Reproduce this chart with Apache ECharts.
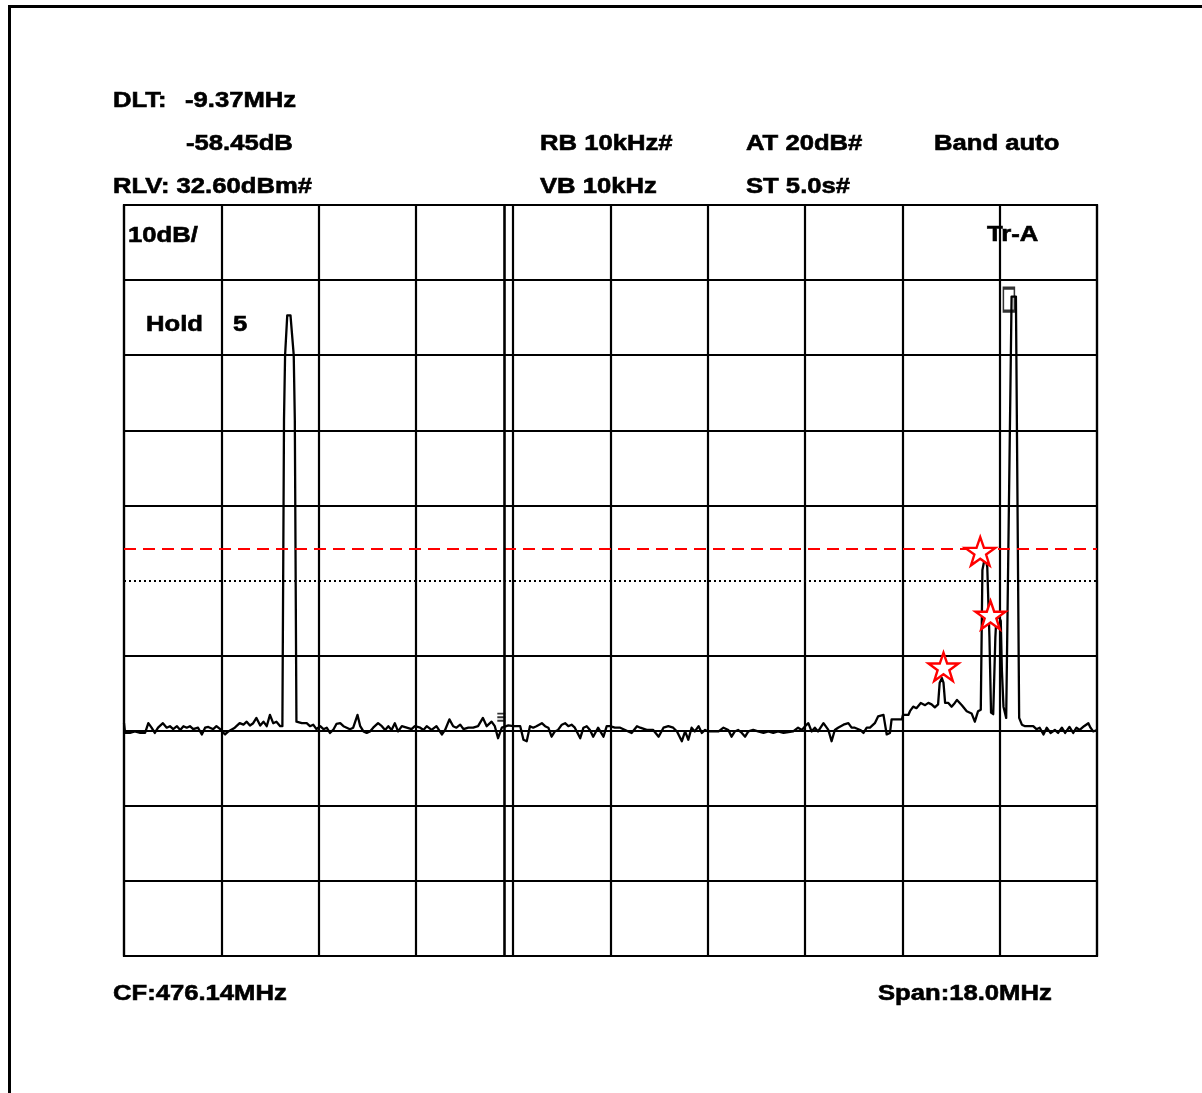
<!DOCTYPE html>
<html><head><meta charset="utf-8">
<script src="https://cdn.jsdelivr.net/npm/echarts@6/dist/echarts.min.js"></script>
<style>html,body{margin:0;padding:0;background:#fff}#c{width:1202px;height:1093px}</style>
</head><body><div id="c"></div>
<script>
// ---- instrument settings ----
const centerFreq = 476.14;   // MHz
const spanMHz = 18.0;        // MHz
const refLevel = 32.6;       // dBm
const dbPerDiv = 10;
const divisions = 10;

// ---- trace (frequency MHz / level dBm) ----
const traceFreq = [
467.14,467.16,467.25,467.34,467.44,467.53,467.59,467.65,467.71,467.77,
467.86,467.93,467.99,468.05,468.12,468.18,468.24,468.30,468.36,468.42,
468.51,468.58,468.64,468.70,468.79,468.85,468.92,468.95,469.01,469.07,
469.19,469.28,469.35,469.41,469.47,469.53,469.59,469.66,469.72,469.78,
469.84,469.90,469.96,470.03,470.07,470.10,470.12,470.16,470.22,470.28,
470.30,470.33,470.36,470.43,470.52,470.58,470.64,470.70,470.77,470.83,
470.89,470.95,471.01,471.07,471.14,471.20,471.26,471.32,471.38,471.46,
471.51,471.57,471.63,471.69,471.75,471.84,471.91,471.97,472.03,472.09,
472.15,472.21,472.28,472.37,472.46,472.52,472.62,472.68,472.74,472.83,
472.92,473.02,473.08,473.16,473.23,473.29,473.36,473.42,473.51,473.60,
473.69,473.78,473.85,473.94,474.00,474.06,474.13,474.16,474.25,474.34,
474.47,474.53,474.59,474.65,474.71,474.77,474.87,474.93,474.99,475.05,
475.11,475.17,475.24,475.30,475.36,475.42,475.48,475.58,475.64,475.70,
475.76,475.82,475.91,476.01,476.07,476.13,476.22,476.32,476.41,476.53,
476.63,476.69,476.81,476.93,477.03,477.12,477.21,477.30,477.37,477.46,
477.52,477.58,477.64,477.70,477.77,477.83,477.89,477.95,478.04,478.14,
478.23,478.32,478.38,478.44,478.50,478.57,478.63,478.69,478.78,478.87,
478.97,479.06,479.15,479.24,479.34,479.43,479.52,479.61,479.68,479.74,
479.80,479.86,479.92,479.98,480.08,480.17,480.23,480.29,480.35,480.45,
480.54,480.60,480.66,480.76,480.82,480.88,480.94,481.03,481.09,481.19,
481.25,481.31,481.34,481.46,481.53,481.55,481.65,481.68,481.74,481.80,
481.88,481.96,482.02,482.08,482.14,482.20,482.23,482.27,482.30,482.33,
482.39,482.45,482.51,482.55,482.64,482.73,482.82,482.88,482.94,482.99,
483.02,483.05,483.09,483.11,483.15,483.18,483.22,483.26,483.28,483.33,
483.36,483.38,483.41,483.46,483.49,483.56,483.64,483.70,483.75,483.81,
483.96,484.02,484.08,484.15,484.21,484.28,484.36,484.42,484.49,484.55,
484.63,484.70,484.76,484.82,484.90,484.98,485.02,485.07,485.14
];
const traceLevel = [
-36.4,-37.7,-37.7,-37.5,-37.7,-37.7,-36.4,-37.0,-37.7,-37.0,
-36.4,-37.0,-36.8,-37.2,-36.8,-37.3,-36.8,-37.0,-36.8,-37.2,
-37.0,-37.9,-37.0,-36.9,-37.2,-36.8,-37.2,-37.5,-37.9,-37.5,
-37.0,-36.4,-36.6,-36.2,-36.7,-36.4,-35.7,-36.7,-36.2,-36.8,
-35.3,-36.4,-36.2,-36.8,-36.8,4.0,12.6,17.9,17.9,12.6,
4.0,-36.2,-36.2,-36.4,-36.4,-36.8,-36.6,-37.2,-36.8,-37.2,
-37.0,-37.7,-37.3,-36.5,-36.4,-36.8,-37.0,-37.2,-37.0,-35.3,
-36.8,-37.5,-37.7,-37.5,-37.0,-36.4,-36.8,-37.3,-36.8,-37.3,
-36.4,-37.5,-36.8,-37.0,-37.2,-36.8,-37.0,-37.3,-36.8,-37.3,
-36.8,-37.9,-37.3,-35.9,-36.8,-37.0,-36.6,-37.2,-37.0,-37.0,
-36.8,-35.7,-36.8,-36.2,-36.8,-38.4,-37.0,-37.0,-36.7,-36.8,
-36.8,-38.6,-38.8,-36.8,-37.0,-36.8,-36.4,-36.8,-37.0,-38.2,
-37.5,-37.3,-36.6,-36.4,-36.8,-36.6,-37.0,-38.4,-37.0,-36.8,
-37.3,-38.2,-37.0,-38.2,-36.8,-36.8,-37.0,-37.0,-37.3,-37.7,
-36.8,-37.0,-37.3,-37.3,-38.2,-37.0,-36.8,-37.0,-37.5,-38.8,
-37.5,-38.6,-37.0,-37.5,-36.8,-37.7,-37.3,-37.5,-37.5,-37.5,
-37.0,-37.3,-38.2,-37.5,-37.3,-37.7,-38.2,-37.5,-37.3,-37.5,
-37.7,-37.5,-37.7,-37.5,-37.7,-37.6,-37.5,-37.0,-37.3,-36.8,
-36.4,-37.5,-37.0,-37.5,-36.4,-37.3,-38.8,-37.3,-37.0,-36.6,
-36.4,-37.0,-37.0,-37.3,-37.7,-37.0,-37.0,-36.4,-35.5,-35.3,
-37.9,-37.7,-35.9,-35.9,-35.9,-35.3,-35.3,-34.8,-34.2,-34.4,
-33.7,-34.0,-33.7,-33.9,-34.3,-33.9,-31.0,-30.4,-31.0,-33.7,
-33.7,-34.2,-33.7,-33.3,-34.0,-34.8,-35.1,-36.2,-34.8,-34.6,
-16.0,-14.9,-14.7,-15.6,-24.9,-35.0,-35.2,-24.9,-22.2,-22.3,
-22.8,-29.3,-34.2,-35.7,-35.5,20.4,20.4,-35.7,-36.6,-36.8,
-36.8,-37.2,-37.0,-37.9,-37.0,-37.7,-37.3,-37.7,-37.0,-37.7,
-36.9,-37.7,-37.0,-37.3,-36.8,-36.4,-37.0,-37.5,-37.3
];

// ---- markers ----
const starFreq = [482.98, 483.17, 482.30];
const starLevel = [-13.5, -22.0, -28.9];
const refMarkerFreq = [483.51];
const refMarkerLevel = [20.0];
const deltaMarkerFreq = [474.12];
const deltaMarkerLevel = [-35.6];
const deltaLineFreq = 474.17;
const displayLineLevel = -13.2;   // red dashed
const centerLineLevel = -17.4;    // dotted graticule centre
const gridLevels = [22.6, 12.6, 2.6, -7.4, -27.4, -37.4, -47.4, -57.4];

// ---- texts ----
const headerTexts = ['DLT:', '-9.37MHz', '-58.45dB', 'RB 10kHz#', 'AT 20dB#', 'Band auto', 'RLV: 32.60dBm#', 'VB 10kHz', 'ST 5.0s#'];
const screenTexts = ['10dB/', 'Tr-A', 'Hold', '5'];
const footerTexts = ['CF:476.14MHz', 'Span:18.0MHz'];

const fMin = centerFreq - spanMHz / 2;
const fMax = centerFreq + spanMHz / 2;
const yMax = refLevel;
const yMin = refLevel - dbPerDiv * divisions;

const FONT = 'bold 22px "Liberation Sans", Arial, sans-serif';
function txt(s, x, y) {
  return {
    type: 'text', x: x, y: y, scaleX: 1.165, z: 10, silent: true,
    style: { text: s, font: FONT, fill: '#000', stroke: '#000', lineWidth: 0.6,
      textAlign: 'left', textVerticalAlign: 'middle', align: 'left', verticalAlign: 'middle' }
  };
}
const textPos = [
  [113, 101], [185, 101], [186, 144], [540, 144], [746, 144], [934, 144],
  [113, 187], [540, 187], [746, 187]
];
const screenPos = [[128, 236], [987, 235], [146, 325], [233, 325]];
const footerPos = [[113, 994], [878, 994]];

const graphics = [];
headerTexts.forEach((s, i) => graphics.push(txt(s, textPos[i][0], textPos[i][1])));
screenTexts.forEach((s, i) => graphics.push(txt(s, screenPos[i][0], screenPos[i][1])));
footerTexts.forEach((s, i) => graphics.push(txt(s, footerPos[i][0], footerPos[i][1])));
graphics.push({
  type: 'polyline', silent: true, z: 10,
  shape: { points: [[9.5, 1093], [9.5, 6.5], [1202, 6.5]] },
  style: { stroke: '#000', lineWidth: 3, fill: null }
});

const solid = { type: 'solid', color: '#000', width: 2.2 };
const markLines = gridLevels.map(v => ({ yAxis: v, lineStyle: solid }));
markLines.push({ yAxis: centerLineLevel, lineStyle: { type: [2, 3], color: '#000', width: 2 } });
markLines.push({ yAxis: displayLineLevel, lineStyle: { type: [12, 7], color: '#ff0000', width: 2 } });
markLines.push({ xAxis: deltaLineFreq, lineStyle: { type: 'solid', color: '#000', width: 2.6 } });

const STAR = 'path://M50,2 L61.8,36.2 L97.6,36.2 L68.6,57.3 L79.4,91.5 L50,70.4 L20.6,91.5 L31.4,57.3 L2.4,36.2 L38.2,36.2 Z';
const BARS = 'path://M0,0H6V1.5H0Z M0,2.75H6V4.25H0Z M0,5.5H6V7H0Z';

const chart = echarts.init(document.getElementById('c'), null, { renderer: 'canvas' });
chart.setOption({
  backgroundColor: '#fff',
  animation: false,
  grid: { left: 124, top: 205, width: 973, height: 751, show: true,
          borderColor: '#000', borderWidth: 2.2, backgroundColor: 'transparent' },
  xAxis: [
    { type: 'value', min: fMin, max: fMax, show: false },
    { type: 'value', min: 0, max: divisions, interval: 1, gridIndex: 0,
      axisLine: { show: false }, axisTick: { show: false }, axisLabel: { show: false },
      splitLine: { show: true, lineStyle: { color: '#000', width: 2.2 } } }
  ],
  yAxis: [{ type: 'value', min: yMin, max: yMax, show: false }],
  graphic: graphics,
  series: [
    {
      type: 'line', xAxisIndex: 0, yAxisIndex: 0, z: 3,
      data: traceFreq.map((f, i) => [f, traceLevel[i]]),
      showSymbol: false, symbol: 'none', smooth: false,
      lineStyle: { color: '#000', width: 2.3, join: 'round' },
      emphasis: { disabled: true }, silent: true,
      markLine: { silent: true, symbol: ['none', 'none'], label: { show: false },
                  emphasis: { disabled: true }, animation: false, data: markLines }
    },
    {
      type: 'scatter', xAxisIndex: 0, yAxisIndex: 0, z: 6, silent: true,
      data: starFreq.map((f, i) => [f, starLevel[i]]),
      symbol: STAR, symbolSize: 30, symbolKeepAspect: true,
      itemStyle: { color: '#fff', borderColor: '#ff0000', borderWidth: 2.4, opacity: 1 }
    },
    {
      type: 'scatter', xAxisIndex: 0, yAxisIndex: 0, z: 5, silent: true,
      data: refMarkerFreq.map((f, i) => [f, refMarkerLevel[i]]),
      symbol: 'rect', symbolSize: [11, 23],
      itemStyle: { color: 'rgba(0,0,0,0)', borderColor: '#000', borderWidth: 2.2 }
    },
    {
      type: 'scatter', xAxisIndex: 0, yAxisIndex: 0, z: 5, silent: true,
      data: deltaMarkerFreq.map((f, i) => [f, deltaMarkerLevel[i]]),
      symbol: BARS, symbolSize: [8, 9],
      itemStyle: { color: '#000' }
    }
  ]
});
</script>
</body></html>
